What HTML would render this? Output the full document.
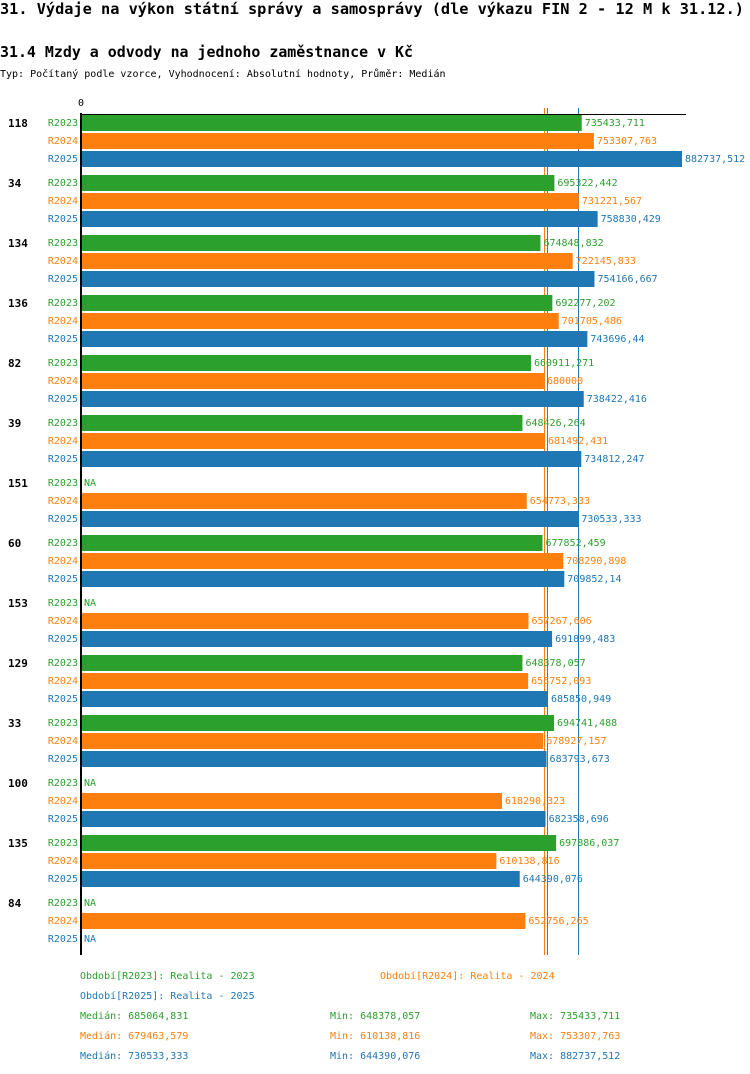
<!DOCTYPE html>
<html><head><meta charset="utf-8"><style>
body{margin:0;background:#fff;}
svg{display:block;font-family:"DejaVu Sans Mono","Liberation Mono",monospace;}
</style></head><body>
<svg id="c" width="750" height="1074" xmlns="http://www.w3.org/2000/svg">
<text x="0" y="14" font-size="15" font-weight="bold" textLength="744" lengthAdjust="spacingAndGlyphs">31. Výdaje na výkon státní správy a samosprávy (dle výkazu FIN 2 - 12 M k 31.12.)</text>
<text x="0" y="57" font-size="15" font-weight="bold" textLength="413" lengthAdjust="spacingAndGlyphs">31.4 Mzdy a odvody na jednoho zaměstnance v Kč</text>
<text x="0" y="77" font-size="10">Typ: Počítaný podle vzorce, Vyhodnocení: Absolutní hodnoty, Průměr: Medián</text>
<text x="81" y="106" font-size="10" text-anchor="middle">0</text>
</svg>
<script>
const groups=["118","34","134","136","82","39","151","60","153","129","33","100","135","84"];
const series=["R2023","R2024","R2025"];
const colors=["#2ca02c","#ff7f0e","#1f77b4"];
const v2023=[735433.711,695322.442,674848.832,692277.202,660911.271,648426.264,null,677852.459,null,648378.057,694741.488,null,697886.037,null];
const v2024=[753307.763,731221.567,722145.833,701705.486,680000,681492.431,654773.333,708290.898,657267.606,656752.093,678927.157,618290.323,610138.816,652756.265];
const v2025=[882737.512,758830.429,754166.667,743696.44,738422.416,734812.247,730533.333,709852.14,691899.483,685850.949,683793.673,682358.696,644390.076,null];
const medians=[685064.831,679463.579,730533.333];
const mins=["648378,057","610138,816","644390,076"];
const maxs=["735433,711","753307,763","882737,512"];
const medTxt=["685064,831","679463,579","730533,333"];
const vals=[v2023,v2024,v2025];
const svg=document.getElementById('c');
const NS="http://www.w3.org/2000/svg";
const x0=81,k=601/882737.512;
const X=v=>x0+v*k;
const Y=(g,s)=>115+g*60+s*18;
function el(t,a){const e=document.createElementNS(NS,t);for(const n in a)e.setAttribute(n,a[n]);svg.appendChild(e);return e;}
const fmt=v=>String(v).replace('.',',');
medians.forEach((m,i)=>{
  const mx=Math.round(X(m))+0.5;
  let ln=el('line',{x1:mx,x2:mx,y1:108,y2:955,stroke:colors[i],'stroke-width':1});
  
  
});
groups.forEach((g,gi)=>{
  let t=el('text',{x:8,y:Y(gi,0)+12,'font-size':11,'font-weight':'bold'});t.textContent=g;
  
  
  series.forEach((s,si)=>{
    const y=Y(gi,si);
    let l=el('text',{x:78,y:y+11,'font-size':10,fill:colors[si],'text-anchor':'end'});l.textContent=s;
    
    
    const v=vals[si][gi];
    if(v==null){
      let n=el('text',{x:84,y:y+11,'font-size':10,fill:colors[si]});n.textContent='NA';
      
      
    }else{
      let r=el('rect',{x:x0,y:y,width:X(v)-x0,height:16,fill:colors[si]});
      
      
      let vt=el('text',{x:X(v)+3,y:y+11,'font-size':10,fill:colors[si]});vt.textContent=fmt(v);
      
      
    }
  });
});
let ax=el('line',{x1:x0,x2:x0,y1:113,y2:955,stroke:'#000','stroke-width':2});


let tl=el('line',{x1:x0,x2:686,y1:114.5,y2:114.5,stroke:'#000','stroke-width':1});


const leg=[[80,979,'Období[R2023]: Realita - 2023',0],[380,979,'Období[R2024]: Realita - 2024',1],[80,999,'Období[R2025]: Realita - 2025',2]];
leg.forEach(a=>{let t=el('text',{x:a[0],y:a[1],'font-size':10,fill:colors[a[3]]});t.textContent=a[2];
  
  });
for(let i=0;i<3;i++){
  const y=1019+i*20;
  [[80,'Medián: '+medTxt[i]],[330,'Min: '+mins[i]],[530,'Max: '+maxs[i]]].forEach(a=>{
    let t=el('text',{x:a[0],y:y,'font-size':10,fill:colors[i]});t.textContent=a[1];
    
    
  });
}
</script>
</body></html>
